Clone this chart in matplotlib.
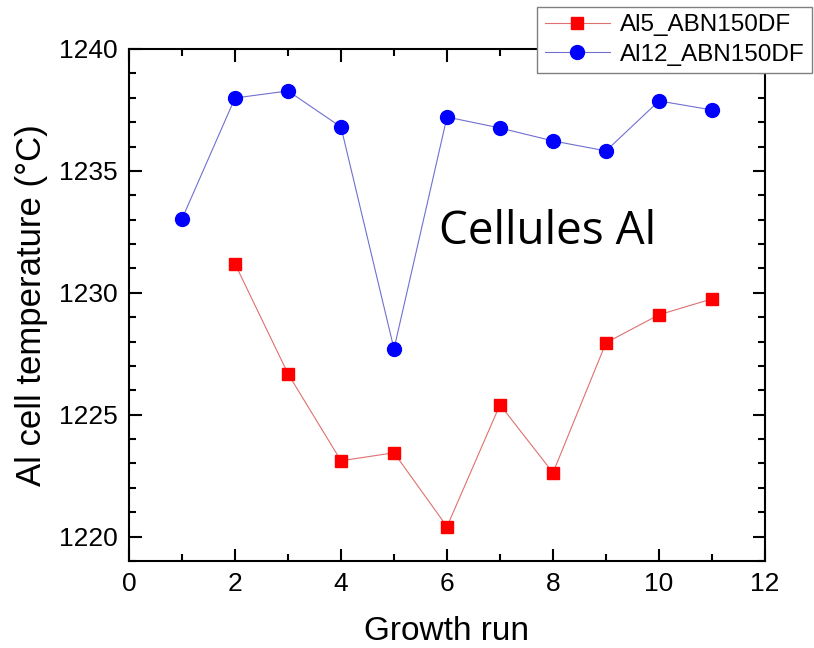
import matplotlib
matplotlib.use("Agg")
import matplotlib.pyplot as plt
from matplotlib.ticker import MultipleLocator

runs_blue = [1, 2, 3, 4, 5, 6, 7, 8, 9, 10, 11]
temp_blue = [1233.03, 1237.99, 1238.28, 1236.80, 1227.70, 1237.21, 1236.76, 1236.23, 1235.82, 1237.87, 1237.50]
runs_red = [2, 3, 4, 5, 6, 7, 8, 9, 10, 11]
temp_red = [1231.19, 1226.68, 1223.11, 1223.44, 1220.41, 1225.41, 1222.62, 1227.95, 1229.10, 1229.75]
label_red = "Al5_ABN150DF"
label_blue = "Al12_ABN150DF"

plt.rcParams['font.family'] = ['Liberation Sans', 'DejaVu Sans']

fig = plt.figure(figsize=(8.14, 6.48), dpi=100)
ax = fig.add_axes([129/814, 1 - 561/648, (765-129)/814, (561-49)/648])

ax.plot(runs_red, temp_red, color='#e07070', lw=0.8, marker='s', ms=9,
        mfc='#ff0000', mec='#ff0000', label=label_red)
ax.plot(runs_blue, temp_blue, color='#7070d0', lw=0.8, marker='o', ms=10,
        mfc='#0000ff', mec='#0000ff', label=label_blue)

ax.set_xlim(0, 12)
ax.set_ylim(1219, 1240)
ax.xaxis.set_major_locator(MultipleLocator(2))
ax.xaxis.set_minor_locator(MultipleLocator(1))
ax.yaxis.set_major_locator(MultipleLocator(5))
ax.yaxis.set_minor_locator(MultipleLocator(1))
ax.tick_params(which='both', direction='in', top=True, right=True, width=1.5, labelsize=19, pad=8)
ax.tick_params(which='major', length=9)
ax.tick_params(which='minor', length=5)
for s in ax.spines.values():
    s.set_linewidth(1.5)

ax.set_xlabel("Growth run", fontsize=24, labelpad=14)
ax.set_ylabel("Al cell temperature (°C)", fontsize=25, labelpad=8)

fig.text(548/814, 1 - 232/648, "Cellules Al", fontsize=33, family=['Open Sans', 'DejaVu Sans'],
         ha='center', va='center')

leg = fig.legend(loc='upper right', bbox_to_anchor=(812/814, 1 - 7/648), fontsize=17.5,
                 frameon=True, fancybox=False, edgecolor='#808080', framealpha=1,
                 borderpad=0.3, handlelength=2.7, labelspacing=0.3, handletextpad=0.4,
                 borderaxespad=0)
leg.get_frame().set_linewidth(1.0)

fig.savefig("out.png", dpi=100)
